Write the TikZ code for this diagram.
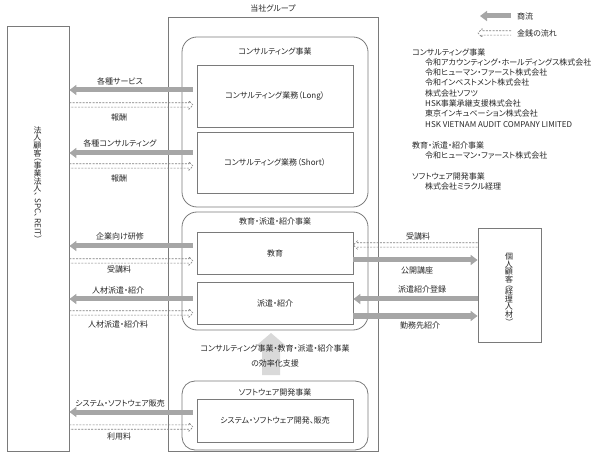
\documentclass[tikz,border=0pt]{standalone}
\usepackage{fontspec}
\setmainfont[CharacterWidth=AlternateProportional]{Noto Sans CJK JP}
\usepackage{graphicx}
\usetikzlibrary{arrows.meta,calc}
\definecolor{lineg}{HTML}{7A7A7A}
\definecolor{arrowg}{HTML}{A6A6A6}
\definecolor{upg}{HTML}{D9D9D9}
\definecolor{txt}{HTML}{262626}
\definecolor{moneyc}{HTML}{7F7F7F}
\newcommand\vj[1]{\rotatebox[origin=c]{90}{\makebox[1em]{\rule[-0.15em]{0pt}{0.95em}#1}}}
\tikzset{
  every node/.style={font=\fontsize{8}{10}\selectfont, text=txt, inner sep=0pt},
  box/.style={draw=lineg, line width=0.8pt},
  rbox/.style={draw=lineg, line width=0.8pt, rounded corners=15pt},
  flow/.style={draw=arrowg, line width=5pt, -{Triangle[length=7pt,width=10pt]}},
  money/.style={draw=moneyc, line width=0.6pt, dash pattern=on 2pt off 1.3pt, to path={
    let \p1=(\tikztostart), \p2=(\tikztotarget), \n1={ifthenelse(\x2>\x1,1,-1)} in
    (\x1,\y1+2.2pt) -- (\x2-\n1*4pt,\y1+2.2pt) -- (\x2-\n1*4pt,\y1+4.2pt) -- (\x2,\y1)
    -- (\x2-\n1*4pt,\y1-4.2pt) -- (\x2-\n1*4pt,\y1-2.2pt) -- (\x1,\y1-2.2pt)}},
  lst/.style={anchor=west}
}
\begin{document}
\begin{tikzpicture}[x=1pt,y=-1pt]
\useasboundingbox (0,0) rectangle (613,454);
% boxes
\node[box, minimum width=62, minimum height=425] (cust) at (38,238.5) {};
\node[box, minimum width=210, minimum height=434] (grp) at (273,234) {};
\node[rbox, minimum width=186, minimum height=170] (cons) at (275,122) {};
\node[box, minimum width=156, minimum height=62] (long) at (275,96) {コンサルティング業務（Long）};
\node[box, minimum width=156, minimum height=61] (short) at (275,162.5) {コンサルティング業務（Short）};
\node[rbox, minimum width=186, minimum height=118] (edu) at (275,271) {};
\node[box, minimum width=156, minimum height=42] (kyo) at (275,253) {教育};
\node[box, minimum width=156, minimum height=42] (haken) at (275,303) {派遣・紹介};
\node[rbox, rounded corners=13pt, minimum width=186, minimum height=69] (soft) at (275,415.5) {};
\node[box, minimum width=156, minimum height=43] (sys) at (275,420.5) {システム・ソフトウェア開発、販売};
\node[box, minimum width=63, minimum height=114] (indiv) at (509.5,285) {};
% titles
\node (tgrp) at (273,8) {当社グループ};
\node (tcons) at (275,51) {コンサルティング事業};
\node (tedu) at (275,221) {教育・派遣・紹介事業};
\node (tsoft) at (275,392) {ソフトウェア開発事業};
% vertical texts
\node[rotate=-90] (vcust) at (37.5,183) {\vj{法}\vj{人}\vj{顧}\vj{客}（\vj{事}\vj{業}\vj{法}\vj{人}、\,SPC、\,REIT）};
\node[rotate=-90] (vindiv) at (509,288) {\vj{個}\vj{人}\vj{顧}\vj{客}（\vj{経}\vj{理}\vj{人}\vj{材}）};
% up arrow
\fill[upg] (262,375) -- (262,345) -- (257,345) -- (271,333) -- (285,345) -- (280,345) -- (280,375) -- cycle;
\node (teff1) at (275,348) {コンサルティング事業・教育・派遣・紹介事業};
\node (teff2) at (275,363) {の効率化支援};
% left side coordinates
\foreach \i/\ya/\ym in {1/90/105, 2/153/166, 3/246/261, 4/299/313, 5/412/427}{
  \coordinate (fs\i) at (193,\ya);
  \coordinate (fe\i) at (cust.east |- fs\i);
  \coordinate (ms\i) at (cust.east |- 0,\ym);
  \coordinate (me\i) at (193,\ym);
}
\draw[flow] (fs1) -- (fe1);
\draw[flow] (fs2) -- (fe2);
\draw[flow] (fs3) -- (fe3);
\draw[flow] (fs4) -- (fe4);
\draw[flow] (fs5) -- (fe5);
\draw[money] (ms1) to (me1);
\draw[money] (ms2) to (me2);
\draw[money] (ms3) to (me3);
\draw[money] (ms4) to (me4);
\draw[money] (ms5) to (me5);
\node (l1) at (120,81) {各種サービス};
\node (l1b) at (119,117) {報酬};
\node (l2) at (120,143) {各種コンサルティング};
\node (l2b) at (119,178) {報酬};
\node (l3) at (120,236) {企業向け研修};
\node (l3b) at (119,269) {受講料};
\node (l4) at (118,290) {人材派遣・紹介};
\node (l4b) at (118,324) {人材派遣・紹介料};
\node (l5) at (120,403) {システム・ソフトウェア販売};
\node (l5b) at (119,436) {利用料};
% right side
\coordinate (r1s) at (indiv.west |- 0,245);
\coordinate (r1e) at (kyo.east |- 0,245);
\coordinate (r2s) at (kyo.east |- 0,260);
\coordinate (r2e) at (indiv.west |- 0,260);
\coordinate (r3s) at (indiv.west |- 0,299);
\coordinate (r3e) at (haken.east |- 0,299);
\coordinate (r4s) at (haken.east |- 0,316);
\coordinate (r4e) at (indiv.west |- 0,316);
\draw[money] (r1s) to (r1e);
\draw[flow] (r2s) -- (r2e);
\draw[flow] (r3s) -- (r3e);
\draw[flow] (r4s) -- (r4e);
\node (rl1) at (418,236) {受講料};
\node (rl2) at (417,270) {公開講座};
\node (rl3) at (422,289) {派遣紹介登録};
\node (rl4) at (420,325) {勤務先紹介};
% legend
\coordinate (lg1s) at (511,16);
\coordinate (lg1e) at (480,16);
\coordinate (lg2s) at (511,33);
\coordinate (lg2e) at (478,33);
\draw[flow] (lg1s) -- (lg1e);
\draw[money] (lg2s) to (lg2e);
\node[lst] (lgt1) at (517,16) {商流};
\node[lst] (lgt2) at (517,33) {金銭の流れ};
% company list
\node[lst] (c0) at (412,52) {コンサルティング事業};
\node[lst] (c1) at (425,62.3) {令和アカウンティング・ホールディングス株式会社};
\node[lst] (c2) at (425,72.6) {令和ヒューマン・ファースト株式会社};
\node[lst] (c3) at (425,82.9) {令和インベストメント株式会社};
\node[lst] (c4) at (425,93.2) {株式会社ソフツ};
\node[lst] (c5) at (425,103.5) {HSK事業承継支援株式会社};
\node[lst] (c6) at (425,113.8) {東京インキュベーション株式会社};
\node[lst] (c7) at (425,124.1) {HSK VIETNAM AUDIT COMPANY LIMITED};
\node[lst] (e0) at (412,145) {教育・派遣・紹介事業};
\node[lst] (e1) at (425,155.3) {令和ヒューマン・ファースト株式会社};
\node[lst] (s0) at (412,176) {ソフトウェア開発事業};
\node[lst] (s1) at (425,186.3) {株式会社ミラクル経理};
\end{tikzpicture}
\end{document}
